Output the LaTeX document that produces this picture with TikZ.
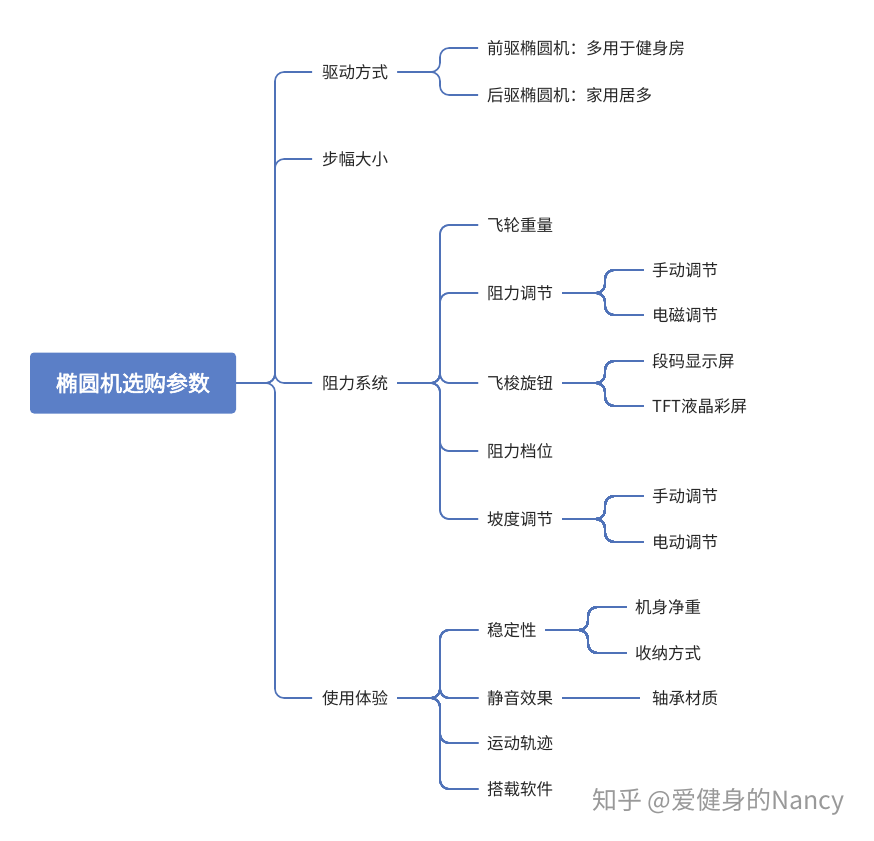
\documentclass[tikz,border=0pt]{standalone}
\usepackage{fontspec}
\setmainfont{Noto Sans CJK SC}
\newfontfamily\rootfont{Noto Sans CJK SC}[BoldFont={Noto Sans CJK SC},BoldFeatures={FakeBold=2.5}]
\usepackage{tikz}
\usetikzlibrary{calc}
\definecolor{linecolor}{HTML}{4F72B8}
\definecolor{rootcolor}{HTML}{5B7FC7}
\tikzset{
  topic/.style={anchor=west,inner sep=0pt,font=\fontsize{16.5pt}{19pt}\selectfont,text=black!85},
  root/.style={fill=rootcolor,rounded corners=4pt,text=white,font=\rootfont\bfseries\fontsize{22pt}{25pt}\selectfont,minimum width=206pt,minimum height=61pt},
  link/.style={linecolor,line width=1.6pt,rounded corners=9pt}
}
% parent, bus x, child
\newcommand{\branch}[3]{\draw[link] ([xshift=9pt]#1.east) -- (#2,0 |- #1.east) |- ([xshift=-9pt]#3.west);}
\begin{document}
\begin{tikzpicture}[x=1pt,y=-1pt]
\useasboundingbox (0,0) rectangle (874,840);
% watermark
\node[anchor=west,inner sep=0pt,text=black!40,font=\fontsize{25pt}{28pt}\selectfont] (wm) at (592,802) {知乎 @爱健身的Nancy};
% level 1
\node[topic] (drive) at (322,72) {驱动方式};
\node[topic] (step) at (322,159) {步幅大小};
\node[topic] (res) at (322,383) {阻力系统};
\node[topic] (use) at (322,698) {使用体验};
% level 2
\node[topic] (front) at (487,48) {前驱椭圆机：多用于健身房};
\node[topic] (rear) at (487,95) {后驱椭圆机：家用居多};
\node[topic] (fly) at (487,225) {飞轮重量};
\node[topic] (adj) at (487,293) {阻力调节};
\node[topic] (knob) at (487,383) {飞梭旋钮};
\node[topic] (gear) at (487,451) {阻力档位};
\node[topic] (slope) at (487,519) {坡度调节};
\node[topic] (stab) at (487,630) {稳定性};
\node[topic] (mute) at (487,698) {静音效果};
\node[topic] (path) at (487,743) {运动轨迹};
\node[topic] (soft) at (487,789) {搭载软件};
% level 3
\node[topic] (adj1) at (652,270) {手动调节};
\node[topic] (adj2) at (652,315) {电磁调节};
\node[topic] (knob1) at (652,361) {段码显示屏};
\node[topic] (knob2) at (652,406) {TFT液晶彩屏};
\node[topic] (slope1) at (652,496) {手动调节};
\node[topic] (slope2) at (652,542) {电动调节};
\node[topic] (stab1) at (635,607) {机身净重};
\node[topic] (stab2) at (635,653) {收纳方式};
\node[topic] (bear) at (652,698) {轴承材质};
\node[root] (r) at (133,383) {椭圆机选购参数};
% links
\foreach \c in {drive,step,res,use}
  \draw[link] (r.east) -- (275,383) |- ([xshift=-10pt]\c.west);
\foreach \c in {front,rear} \branch{drive}{440}{\c}
\foreach \c in {fly,adj,knob,gear,slope} \branch{res}{440}{\c}
\foreach \c in {stab,mute,path,soft} \branch{use}{440}{\c}
\foreach \c in {adj1,adj2} \branch{adj}{605}{\c}
\foreach \c in {knob1,knob2} \branch{knob}{605}{\c}
\foreach \c in {slope1,slope2} \branch{slope}{605}{\c}
\foreach \c in {stab1,stab2} \branch{stab}{588}{\c}
\draw[link] ([xshift=9pt]mute.east) -- ([xshift=-12pt]bear.west);
\end{tikzpicture}
\end{document}
